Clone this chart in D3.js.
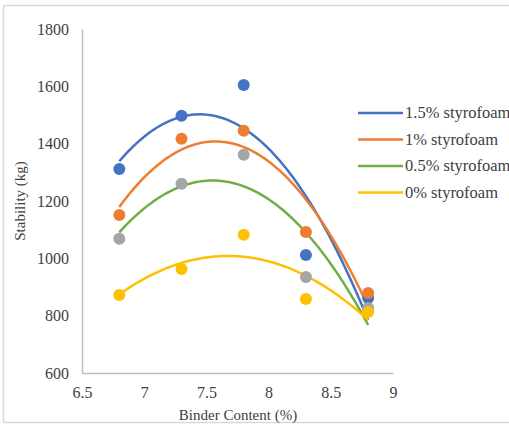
<!DOCTYPE html>
<html><head><meta charset="utf-8">
<script src="https://cdn.jsdelivr.net/npm/d3@7"></script>
<style>
html,body{margin:0;padding:0;background:#fff;}
svg{display:block;}
svg text{font-family:"Liberation Serif","Times New Roman",serif !important;}
</style></head>
<body><svg id="c" width="509" height="425"></svg>
<script>
const binder = [6.8, 7.3, 7.8, 8.3, 8.8];
const seriesNames = ["1.5% styrofoam", "1% styrofoam", "0.5% styrofoam", "0% styrofoam"];
const s15 = [1312, 1497, 1605, 1012, 862];
const s10 = [1151, 1417, 1445, 1092, 879];
const s05 = [1068, 1260, 1361, 935, 827];
const s00 = [872, 963, 1082, 858, 813];
const xTicks = [6.5, 7, 7.5, 8, 8.5, 9];
const yTicks = [600, 800, 1000, 1200, 1400, 1600, 1800];

const lineColors = ["#4472C4", "#ED7D31", "#70AD47", "#FFC000"];
const dotColors = ["#4472C4", "#ED7D31", "#A5A5A5", "#FFC000"];
const values = [s15, s10, s05, s00];

const svg = d3.select("#c");
svg.append("rect").attr("x", 3.5).attr("y", 5.5).attr("width", 520).attr("height", 417)
  .attr("fill", "#fff").attr("stroke", "#d9d9d9").attr("stroke-width", 1.5);

const x = d3.scaleLinear().domain([6.5, 9]).range([82, 393]);
const y = d3.scaleLinear().domain([600, 1800]).range([373, 29]);

const xAxis = svg.append("g").attr("transform", `translate(0,${y(600)})`)
  .call(d3.axisBottom(x).tickValues(xTicks).tickSize(0).tickPadding(14).tickFormat(d3.format("")));
const yAxis = svg.append("g").attr("transform", `translate(${x(6.5)},0)`)
  .call(d3.axisLeft(y).tickValues(yTicks).tickSize(0).tickPadding(13).tickFormat(d3.format("")));
[xAxis, yAxis].forEach(g => {
  g.attr("font-family", null).attr("font-size", null);
  g.select(".domain").attr("stroke", "#bfbfbf").attr("stroke-width", 1.5);
  g.selectAll("text").attr("font-size", 16).attr("fill", "#404040");
});

svg.append("text").attr("x", 238).attr("y", 420).attr("text-anchor", "middle")
  .attr("font-size", 15).attr("fill", "#404040").text("Binder Content (%)");
svg.append("text").attr("transform", "translate(25,201) rotate(-90)").attr("text-anchor", "middle")
  .attr("font-size", 15).attr("fill", "#404040").text("Stability (kg)");

// quadratic least-squares trendline
function quadFit(xs, ys) {
  const n = xs.length;
  let s = [0,0,0,0,0], t = [0,0,0];
  for (let i = 0; i < n; i++) {
    const xi = xs[i];
    for (let k = 0; k < 5; k++) s[k] += Math.pow(xi, k);
    for (let k = 0; k < 3; k++) t[k] += ys[i] * Math.pow(xi, k);
  }
  const A = [[s[0], s[1], s[2], t[0]], [s[1], s[2], s[3], t[1]], [s[2], s[3], s[4], t[2]]];
  for (let i = 0; i < 3; i++) {
    let p = i;
    for (let r = i + 1; r < 3; r++) if (Math.abs(A[r][i]) > Math.abs(A[p][i])) p = r;
    [A[i], A[p]] = [A[p], A[i]];
    for (let r = 0; r < 3; r++) if (r !== i) {
      const f = A[r][i] / A[i][i];
      for (let c = i; c < 4; c++) A[r][c] -= f * A[i][c];
    }
  }
  const c = A.map((row, i) => row[3] / row[i]);
  return xv => c[0] + c[1] * xv + c[2] * xv * xv;
}

const line = d3.line().x(d => x(d[0])).y(d => y(d[1])).curve(d3.curveLinear);
const xmin = d3.min(binder), xmax = d3.max(binder);
const samples = d3.range(0, 101).map(i => xmin + (xmax - xmin) * i / 100);

values.forEach((vals, si) => {
  const f = quadFit(binder, vals);
  svg.append("path").datum(samples.map(xv => [xv, f(xv)]))
    .attr("d", line).attr("fill", "none").attr("stroke", lineColors[si]).attr("stroke-width", 2.5);
});
values.forEach((vals, si) => {
  svg.append("g").selectAll("circle").data(binder).join("circle")
    .attr("cx", d => x(d)).attr("cy", (d, i) => y(vals[i])).attr("r", 6)
    .attr("fill", dotColors[si]);
});

const leg = svg.append("g");
seriesNames.forEach((name, i) => {
  const yy = 113 + i * 26.5;
  leg.append("line").attr("x1", 358).attr("x2", 403).attr("y1", yy).attr("y2", yy)
    .attr("stroke", lineColors[i]).attr("stroke-width", 2.5);
  leg.append("text").attr("x", 405).attr("y", yy + 5).attr("font-size", 16.5)
    .attr("fill", "#404040").text(name);
});
</script></body></html>
